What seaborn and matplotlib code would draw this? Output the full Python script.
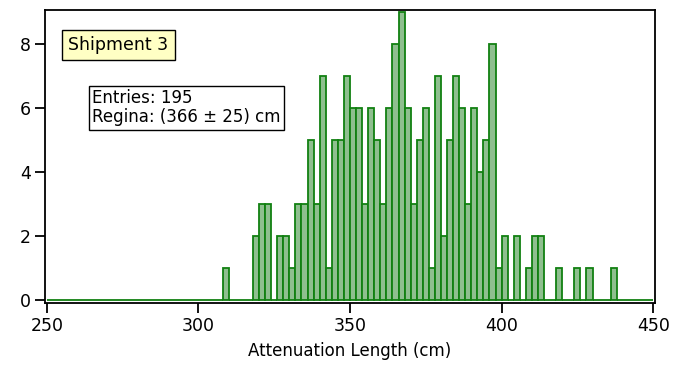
import numpy as np
import pandas as pd
import matplotlib
matplotlib.use("Agg")
import matplotlib.pyplot as plt
import seaborn as sns

# Histogram contents: lower edge of each 2 cm bin (cm) and its entry count
bin_low = [308, 318, 320, 322, 326, 328, 330, 332, 334, 336, 338, 340, 342, 344, 346, 348,
           350, 352, 354, 356, 358, 360, 362, 364, 366, 368, 370, 372, 374, 376, 378, 380,
           382, 384, 386, 388, 390, 392, 394, 396, 398, 400, 404, 408, 410, 412, 418, 424,
           428, 436]
counts = [1, 2, 3, 3, 2, 2, 1, 3, 3, 5, 3, 7, 1, 5, 5, 7,
          6, 6, 3, 6, 5, 3, 6, 8, 9, 6, 3, 5, 6, 1, 7, 2,
          5, 7, 6, 3, 6, 4, 5, 8, 1, 2, 2, 1, 2, 2, 1, 1,
          1, 1]

x_ticks = [250, 300, 350, 400, 450]
y_ticks = [0, 2, 4, 6, 8]
shipment_label = "Shipment 3"
stats_label = "Entries: 195\nRegina: (366 ± 25) cm"
x_label = "Attenuation Length (cm)"

df = pd.DataFrame({"length": np.array(bin_low) + 1.0, "n": counts})

sns.set_style("white")
plt.rcParams["font.family"] = ["DejaVu Sans"]
plt.rcParams["text.color"] = "black"
plt.rcParams["axes.labelcolor"] = "black"

fig = plt.figure(figsize=(6.75, 3.67), dpi=100)
ax = fig.add_axes([0.0662, 0.1744, 0.9042, 0.7984])

sns.histplot(data=df, x="length", weights="n", binwidth=2, binrange=(250, 450), ax=ax,
             color="#8fbf8f", alpha=1.0, edgecolor="#118011", linewidth=1.3)

ax.set_xlim(249.3, 450.6)
ax.set_ylim(-0.1, 9.06)
ax.set_xticks(x_ticks)
ax.set_yticks(y_ticks)
ax.set_xlabel(x_label, fontsize=12, labelpad=5, color="black")
ax.set_ylabel("")
ax.tick_params(axis="both", direction="out", length=7, width=1.3,
               labelsize=12.5, color="black", labelcolor="black", pad=3,
               bottom=True, left=True, top=False, right=False)
for side in ax.spines.values():
    side.set_visible(True)
    side.set_color("black")
    side.set_linewidth(1.3)

ax.text(0.039, 0.88, shipment_label, transform=ax.transAxes, fontsize=12.5,
        va="center", ha="left", color="black",
        bbox=dict(boxstyle="square,pad=0.35", fc="#ffffc4", ec="black", lw=1.0))
ax.text(0.078, 0.667, stats_label, transform=ax.transAxes, fontsize=12,
        va="center", ha="left", linespacing=1.1, color="black",
        bbox=dict(boxstyle="square,pad=0.2", fc="white", ec="black", lw=1.0))

fig.savefig("out.png", dpi=100)
